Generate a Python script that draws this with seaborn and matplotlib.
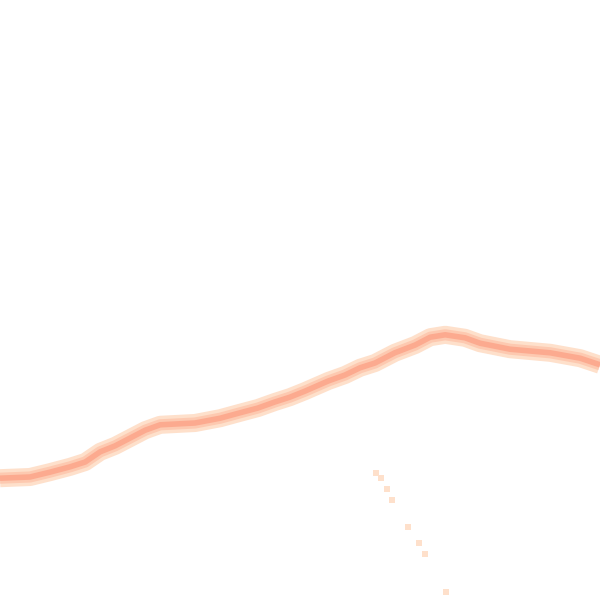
import numpy as np
import pandas as pd
import matplotlib
matplotlib.use('Agg')
import matplotlib.pyplot as plt
import seaborn as sns

# ridge path (grid units, 100 x 100)
ridge_x = [0, 5, 8.3, 11.7, 14.2, 16.7, 19.2, 21.7, 24.2, 26.7, 32.5, 36.7, 40, 43,
           45.8, 48.3, 50.8, 54.7, 57.5, 60, 62.5, 65.8, 69.2, 71.7, 74.2, 77.5,
           80, 85, 91.7, 96.7, 100]
ridge_y = [20.3, 20.5, 21.3, 22.2, 23.0, 24.7, 25.7, 27.0, 28.3, 29.2, 29.5, 30.3,
           31.2, 32, 33, 33.8, 34.8, 36.5, 37.5, 38.7, 39.5, 41.2, 42.5, 43.8, 44.2,
           43.7, 42.8, 41.8, 41.2, 40.3, 39.2]

# stray cells below the ridge
dots_x = [62.7, 63.5, 64.5, 65.3, 68, 69.8, 70.8, 74.3]
dots_y = [21.2, 20.3, 18.5, 16.7, 12.2, 9.5, 7.7, 1.3]

ridge = pd.DataFrame({'x': ridge_x, 'y': ridge_y})
dots = pd.DataFrame({'x': dots_x, 'y': dots_y})

sns.set_style('white')
fig = plt.figure(figsize=(6, 6), dpi=100)
ax = fig.add_axes([0, 0, 1, 1])

# three layers: pale halo, mid band, darker core
for lw, col in [(13, '#fee0cb'), (8, '#fdc9b0'), (4, '#fcaa8f')]:
    sns.lineplot(data=ridge, x='x', y='y', ax=ax, color=col, linewidth=lw,
                 sort=False, estimator=None, solid_capstyle='butt')

sns.scatterplot(data=dots, x='x', y='y', ax=ax, marker='s', s=20,
                color='#fee0cb', edgecolor='none')

ax.set_xlim(0, 100)
ax.set_ylim(0, 100)
ax.axis('off')

fig.savefig('out.png', dpi=100)
